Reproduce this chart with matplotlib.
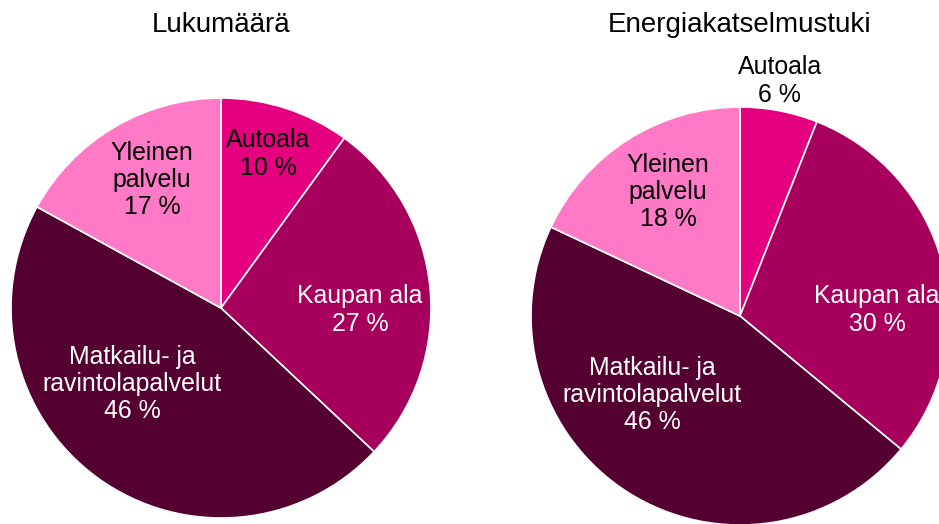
import matplotlib
matplotlib.use("Agg")
import matplotlib.pyplot as plt

plt.rcParams['font.family'] = ['Liberation Sans', 'DejaVu Sans']

# ---- data ----
categories = ["Autoala", "Kaupan ala", "Matkailu- ja\nravintolapalvelut", "Yleinen\npalvelu"]
lukumaara = [10, 27, 46, 17]
energiatuki = [6, 30, 46, 18]
titles = ["Lukumäärä", "Energiakatselmustuki"]

# ---- styles / layout ----
colors = ["#E4007F", "#A7005C", "#540030", "#FF7AC6"]
text_colors = ["black", "white", "white", "black"]
W, H = 939, 524
fig = plt.figure(figsize=(W / 100, H / 100), dpi=100)

# pie centre (px from left, px from top) and radius px
pies = [
    dict(cx=221, cy=308, r=210, values=lukumaara,
         label_pos=[(0.224, 0.733), (0.662, -0.01), (-0.424, -0.362), (-0.329, 0.610)],
         title_y=25),
    dict(cx=740, cy=316, r=209, values=energiatuki,
         label_pos=[(0.191, 1.124), (0.655, 0.029), (-0.421, -0.378), (-0.344, 0.593)],
         title_y=25),
]

for p, title in zip(pies, titles):
    left = (p["cx"] - p["r"]) / W
    bottom = (H - (p["cy"] + p["r"])) / H
    ax = fig.add_axes([left, bottom, 2 * p["r"] / W, 2 * p["r"] / H])
    ax.pie(p["values"], colors=colors, startangle=90, counterclock=False,
           wedgeprops=dict(edgecolor="white", linewidth=1.2))
    ax.set_xlim(-1, 1)
    ax.set_ylim(-1, 1)
    ax.set_aspect("equal", adjustable="datalim")
    ax.axis("off")
    for cat, val, (lx, ly), tc in zip(categories, p["values"], p["label_pos"], text_colors):
        col = tc
        if ly > 1.0:
            col = "black"
        ax.text(lx, ly, f"{cat}\n{val} %", ha="center", va="center",
                multialignment="center", fontsize=17.9, color=col,
                linespacing=1.17, clip_on=False)
    fig.text(p["cx"] / W, 1 - p["title_y"] / H, title, ha="center", va="center",
             fontsize=20, color="black")

fig.savefig("out.png", dpi=100)
